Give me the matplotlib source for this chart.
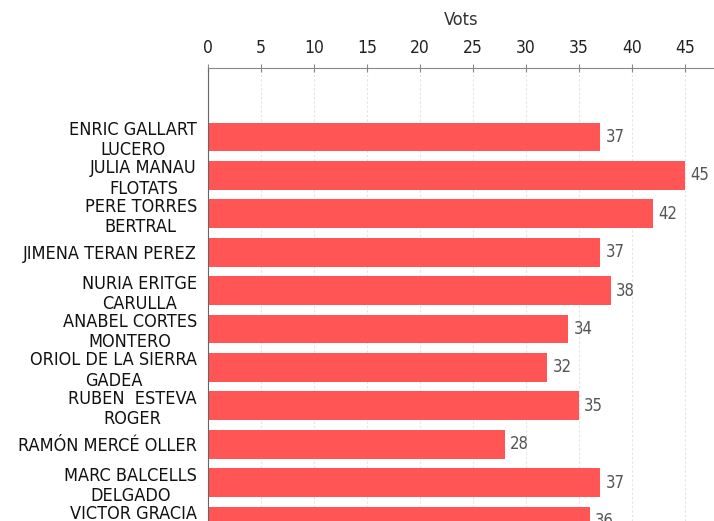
import matplotlib
matplotlib.use("Agg")
import matplotlib.pyplot as plt

# candidats i vots
noms = [
    "ENRIC GALLART\nLUCERO",
    "JULIA MANAU\nFLOTATS",
    "PERE TORRES\nBERTRAL",
    "JIMENA TERAN PEREZ",
    "NURIA ERITGE\nCARULLA",
    "ANABEL CORTES\nMONTERO",
    "ORIOL DE LA SIERRA\nGADEA",
    "RUBEN  ESTEVA\nROGER",
    "RAMÓN MERCÉ OLLER",
    "MARC BALCELLS\nDELGADO",
    "VICTOR GRACIA\n ",
]
vots = [37, 45, 42, 37, 38, 34, 32, 35, 28, 37, 36]
ticks = [0, 5, 10, 15, 20, 25, 30, 35, 40, 45]

plt.rcParams["font.family"] = "DejaVu Sans"
plt.rcParams["font.stretch"] = "condensed"

fig = plt.figure(figsize=(7.14, 5.21), dpi=100)
ax = fig.add_axes([208 / 714, 0.0, 1 - 208 / 714, 1 - 68 / 521])

pos = list(range(len(noms)))
ax.barh(pos, vots, height=0.75, color="#ff5555", zorder=2)

for p, v in zip(pos, vots):
    ax.text(v + 0.5, p, str(v), va="center", ha="left", fontsize=12, color="#555555")

ax.set_xlim(0, (714 - 208) / 10.6)
ax.set_ylim(9.94, -1.80)

ax.xaxis.tick_top()
ax.xaxis.set_label_position("top")
ax.set_xticks(ticks)
ax.set_xticklabels([str(t) for t in ticks], fontsize=12.5, color="#222222")
ax.set_xlabel("Vots", fontsize=13, color="#333333", labelpad=10)
ax.tick_params(axis="x", direction="inout", length=6, color="#888888", pad=5)

ax.set_yticks(pos)
ax.set_yticklabels(noms, fontsize=13, color="#111111", linespacing=1.15, multialignment="center")
ax.tick_params(axis="y", length=0, pad=8)

ax.grid(axis="x", color="#e4e4e4", linestyle=(0, (2, 2)), linewidth=0.8, zorder=0)

for s in ["right", "bottom"]:
    ax.spines[s].set_visible(False)
ax.spines["top"].set_color("#888888")
ax.spines["left"].set_color("#666666")

fig.savefig("out.png", dpi=100)
